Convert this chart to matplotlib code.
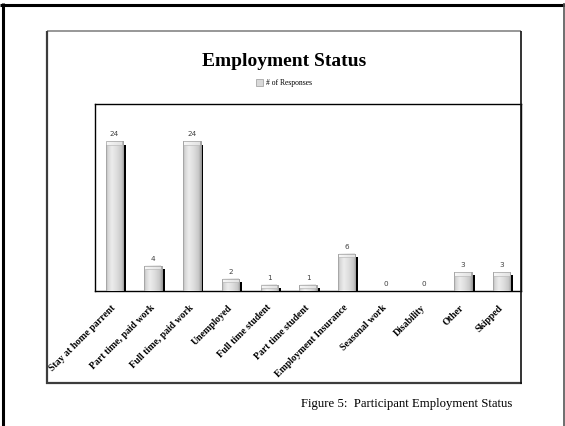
import numpy as np
import matplotlib
matplotlib.use("Agg")
import matplotlib.pyplot as plt
from matplotlib.lines import Line2D
from matplotlib.colors import LinearSegmentedColormap

# Survey responses by employment status
categories = ["Stay at home parrent", "Part time, paid work", "Full time, paid work",
              "Unemployed", "Full time student", "Part time student",
              "Employment Insurance", "Seasonal work", "Disability", "Other", "Skipped"]
responses = [24, 4, 24, 2, 1, 1, 6, 0, 0, 3, 3]
series_name = "# of Responses"
chart_title = "Employment Status"
caption = "Figure 5:  Participant Employment Status"

W, H = 565, 426
fig = plt.figure(figsize=(W / 100, H / 100), dpi=100)
fig.patch.set_facecolor("white")


def px(x, y):
    return x / W, 1 - y / H


def fig_line(p0, p1, color, lw):
    (x0, y0), (x1, y1) = px(*p0), px(*p1)
    fig.add_artist(Line2D([x0, x1], [y0, y1], color=color, lw=lw,
                          transform=fig.transFigure, solid_capstyle="butt"))


# page frame
fig_line((0, 4.5), (565, 4.5), "black", 2.2)
fig_line((3, 3), (3, 426), "black", 2.2)
fig_line((563.5, 3), (563.5, 426), "#555555", 1.2)

# chart area frame
fig_line((47, 31), (521, 31), "#7a7a7a", 1.1)
fig_line((47, 30.5), (47, 383.5), "#3c3c3c", 1.6)
fig_line((46, 383), (522, 383), "#3c3c3c", 1.6)
fig_line((521, 30.5), (521, 383.5), "#111111", 1.2)

# plot area
l, t = px(95, 104)
r, b = px(521, 291)
ax = fig.add_axes([l, b, r - l, t - b])
ax.set_xlim(-0.5, len(categories) - 0.5)
ax.set_ylim(0, 30)
for s in ax.spines.values():
    s.set_color("black")
    s.set_linewidth(1.0)
ax.set_yticks([])

x = np.arange(len(categories))
bw = 0.45

# drop shadow to the right of each bar
shadow_h = [max(v - 0.5, 0) for v in responses]
ax.bar(x + 0.075, shadow_h, width=bw, color="black", zorder=1, linewidth=0)

bars = ax.bar(x, responses, width=bw, color="#d9d9d9", edgecolor="#9a9a9a",
              linewidth=0.5, zorder=2, label=series_name)

# shaded cylinder-like fill
shade = LinearSegmentedColormap.from_list(
    "shade", [(0.0, "#b0b0b0"), (0.1, "#d6d6d6"), (0.32, "#ececec"),
              (0.6, "#dedede"), (0.88, "#c8c8c8"), (1.0, "#a4a4a4")])
cap_shade = LinearSegmentedColormap.from_list("cap", ["#f7f7f7", "#e2e2e2"])
grad = np.linspace(0, 1, 64).reshape(1, -1)
for bar, v in zip(bars, responses):
    if v <= 0:
        continue
    x0 = bar.get_x()
    im = ax.imshow(grad, cmap=shade, aspect="auto", zorder=3,
                   extent=(x0, x0 + bw, 0, v), interpolation="bilinear")
    im.set_clip_path(bar)
    # highlight band at the top of the bar
    ax.imshow(grad, cmap=cap_shade, aspect="auto", zorder=4,
              extent=(x0 + 0.02, x0 + bw - 0.02, v - 0.55, v - 0.05),
              interpolation="bilinear")
    ax.plot([x0 + 0.03, x0 + bw - 0.03], [v - 0.55, v - 0.55],
            color="#bdbdbd", lw=0.5, zorder=5)
    ax.bar(bar.get_x() + bw / 2, v, width=bw, fill=False, edgecolor="#a0a0a0",
           linewidth=0.5, zorder=6)

# value labels
for xi, v in zip(x, responses):
    ax.annotate(str(v), (xi, v), xytext=(0, 7), textcoords="offset pixels",
                ha="center", va="center", fontsize=5.2, color="#404040",
                family="DejaVu Sans")

ax.set_xticks(x)
ax.set_xticklabels(categories, rotation=45, ha="right", va="center",
                   rotation_mode="anchor", fontsize=7, fontweight="bold",
                   family="Liberation Serif")
ax.tick_params(axis="x", length=0, pad=11)

# title and legend
tx, ty = px(284, 62)
fig.text(tx, ty, chart_title, ha="center", va="center", fontsize=14,
         fontweight="bold", family="Liberation Serif")
lx, ly = px(284, 83)
fig.legend(handles=[bars], labels=[series_name], loc="center",
           bbox_to_anchor=(lx, ly), frameon=False,
           prop={"family": "Liberation Serif", "size": 5.5},
           handlelength=0.9, handleheight=0.9, handletextpad=0.3,
           borderaxespad=0)

# figure caption
cx, cy = px(512, 404)
fig.text(cx, cy, caption, ha="right", va="center", fontsize=9.2,
         family="Liberation Serif")

fig.savefig("out.png", dpi=100, facecolor="white")
